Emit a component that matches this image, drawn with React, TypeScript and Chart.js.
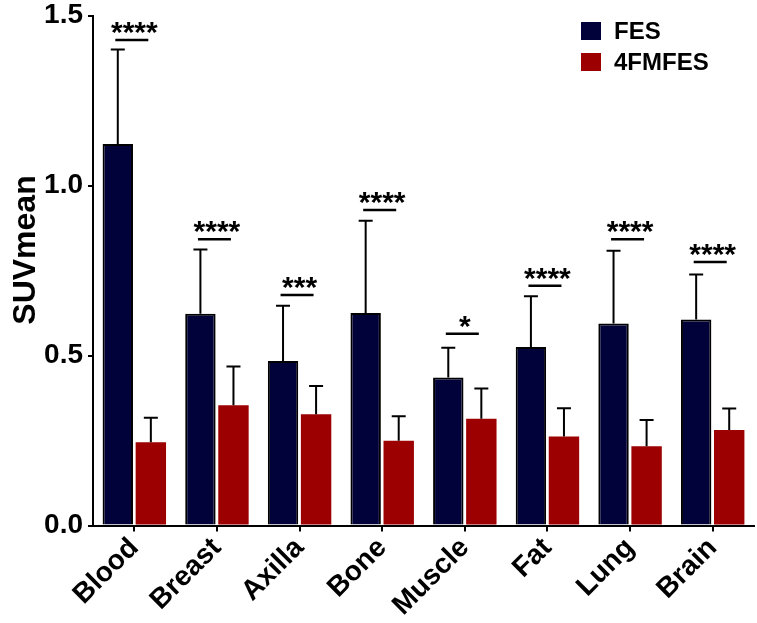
import React, { useEffect, useRef } from "react";
import { Chart, registerables } from "chart.js";

Chart.register(...registerables);

const categories = ["Blood", "Breast", "Axilla", "Bone", "Muscle", "Fat", "Lung", "Brain"];
const seriesNames = ["FES", "4FMFES"];
const yTitle = "SUVmean";
const fesMean = [1.122, 0.623, 0.484, 0.625, 0.435, 0.525, 0.594, 0.606];
const fesSD = [0.278, 0.189, 0.162, 0.271, 0.088, 0.149, 0.214, 0.132];
const fmfesMean = [0.245, 0.354, 0.327, 0.249, 0.314, 0.262, 0.233, 0.281];
const fmfesSD = [0.072, 0.114, 0.083, 0.072, 0.089, 0.083, 0.077, 0.063];
const sigLabels = ["****", "****", "***", "****", "*", "****", "****", "****"];
const sigLineY = [1.428, 0.842, 0.678, 0.928, 0.564, 0.705, 0.842, 0.775];
const yTicks = [0, 0.5, 1.0, 1.5];

const NAVY = "#02023a";
const RED = "#9c0000";
const FONT = '"Liberation Sans", Arial, sans-serif';

const annotPlugin = {
  id: "annot",
  afterDatasetsDraw(chart: any) {
    const { ctx } = chart;
    const x = chart.scales.x;
    const y = chart.scales.y;
    const sets: any[] = [
      [chart.getDatasetMeta(0), fesMean, fesSD],
      [chart.getDatasetMeta(1), fmfesMean, fmfesSD],
    ];
    ctx.save();
    ctx.strokeStyle = "#000";
    ctx.lineWidth = 2;
    const cap = 7;
    sets.forEach(([meta, means, sds]) => {
      meta.data.forEach((bar: any, i: number) => {
        const top = y.getPixelForValue(means[i] + sds[i]);
        const base = y.getPixelForValue(means[i]);
        ctx.beginPath();
        ctx.moveTo(bar.x, base);
        ctx.lineTo(bar.x, top);
        ctx.moveTo(bar.x - cap, top);
        ctx.lineTo(bar.x + cap, top);
        ctx.stroke();
      });
    });
    categories.forEach((_c, i) => {
      const cx = x.getPixelForValue(i);
      const ly = y.getPixelForValue(sigLineY[i]);
      ctx.lineWidth = 2.5;
      ctx.beginPath();
      ctx.moveTo(cx - 19, ly);
      ctx.lineTo(cx + 14, ly);
      ctx.stroke();
      ctx.font = `bold 30px ${FONT}`;
      ctx.textAlign = "center";
      ctx.textBaseline = "alphabetic";
      ctx.fillStyle = "#000";
      ctx.fillText(sigLabels[i], cx, ly + 2);
    });
    // legend
    const colors = [NAVY, RED];
    seriesNames.forEach((name, i) => {
      const by = 22 + i * 31;
      ctx.fillStyle = colors[i];
      ctx.fillRect(581, by, 20, 18);
      ctx.fillStyle = "#000";
      ctx.font = `bold 24px ${FONT}`;
      ctx.textAlign = "left";
      ctx.textBaseline = "middle";
      ctx.fillText(name, 614, by + 10);
    });
    // y title
    ctx.save();
    ctx.translate(26, 250);
    ctx.rotate(-Math.PI / 2);
    ctx.font = `bold 32px ${FONT}`;
    ctx.textAlign = "center";
    ctx.textBaseline = "middle";
    ctx.fillStyle = "#000";
    ctx.fillText(yTitle, 0, 0);
    ctx.restore();
    ctx.restore();
  },
};

export default function App() {
  const ref = useRef<HTMLCanvasElement>(null);
  useEffect(() => {
    if (!ref.current) return;
    const chart = new Chart(ref.current, {
      type: "bar",
      data: {
        labels: categories,
        datasets: [
          {
            label: seriesNames[0],
            data: fesMean,
            backgroundColor: NAVY,
            borderColor: "#000",
            borderWidth: 2,
            categoryPercentage: 0.8,
            barPercentage: 0.92,
          },
          {
            label: seriesNames[1],
            data: fmfesMean,
            backgroundColor: RED,
            borderWidth: 0,
            categoryPercentage: 0.8,
            barPercentage: 0.92,
          },
        ],
      },
      options: {
        animation: false,
        responsive: true,
        maintainAspectRatio: false,
        layout: { padding: { top: 15.5, right: 3, left: 0, bottom: 0 } },
        plugins: { legend: { display: false }, tooltip: { enabled: false } },
        scales: {
          x: {
            grid: {
              display: true,
              drawOnChartArea: false,
              drawTicks: true,
              tickLength: 6,
              offset: false,
              color: "#000",
              lineWidth: 2,
            },
            border: { display: true, color: "#000", width: 2 },
            ticks: {
              color: "#000",
              font: { family: FONT, size: 28, weight: "bold" },
              minRotation: 45,
              maxRotation: 45,
              padding: 0,
            },
            afterFit: (s: any) => {
              s.height = 97.5;
              s.paddingLeft = 0;
              s.paddingRight = 0;
            },
          },
          y: {
            min: 0,
            max: 1.5,
            afterBuildTicks: (s: any) => {
              s.ticks = yTicks.map((v) => ({ value: v }));
            },
            grid: {
              display: true,
              drawOnChartArea: false,
              drawTicks: true,
              tickLength: 5,
              color: "#000",
              lineWidth: 2,
            },
            border: { display: true, color: "#000", width: 2 },
            ticks: {
              color: "#000",
              font: { family: FONT, size: 28, weight: "bold", lineHeight: 1 },
              padding: 5,
              callback: (v: any) => Number(v).toFixed(1),
            },
            afterFit: (s: any) => {
              s.width = 93;
              s.paddingTop = 0;
              s.paddingBottom = 0;
            },
          },
        },
      },
      plugins: [annotPlugin],
    });
    return () => chart.destroy();
  }, []);
  return (
    <div style={{ position: "fixed", left: 0, top: 0, width: 757, height: 623, background: "#fff" }}>
      <canvas ref={ref} />
    </div>
  );
}
